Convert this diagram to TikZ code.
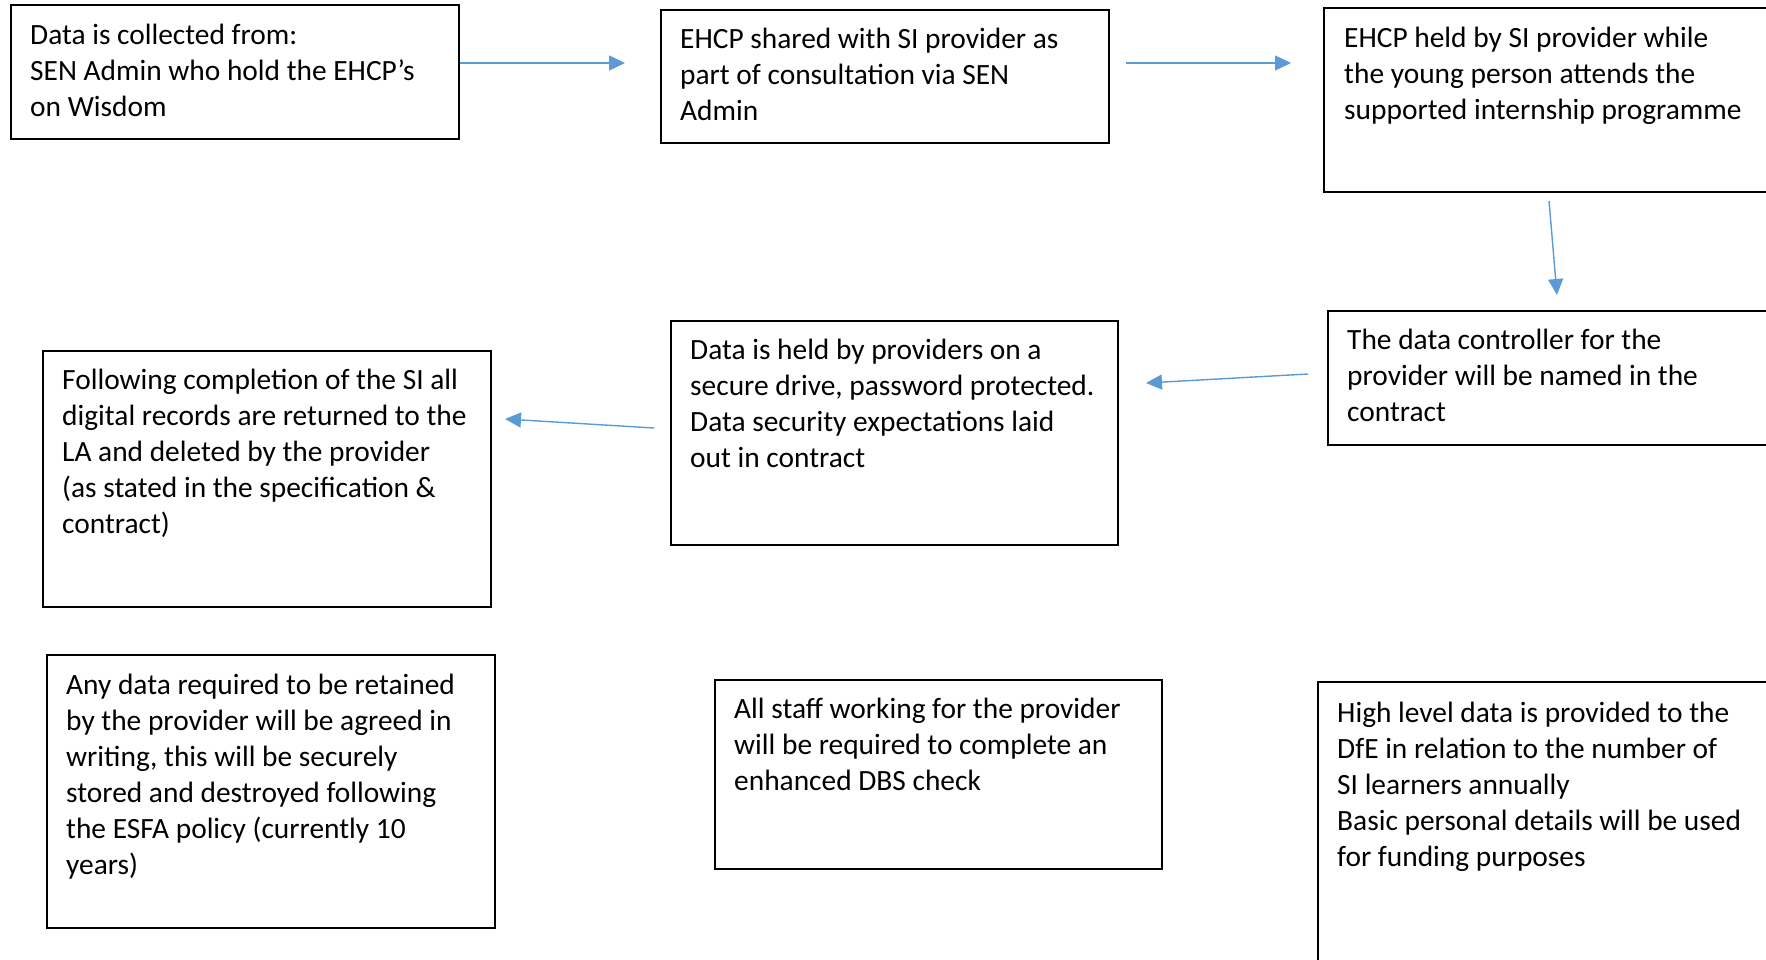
\documentclass[tikz,border=0pt]{standalone}
\usepackage{fontspec}
\setmainfont{Carlito}
\usepackage{xcolor}
\usetikzlibrary{arrows.meta,positioning}

\definecolor{flowblue}{HTML}{5B9BD5}

\begin{document}
\begin{tikzpicture}[
    x=1pt,y=1pt,
    box/.style={rectangle,draw,line width=2pt,anchor=north west,inner sep=0pt},
    txt/.style={anchor=north west,inner sep=0pt,align=left,font={\fontsize{29.4}{36}\selectfont}},
    flow/.style={-{Triangle[length=16pt,width=15pt]},draw=flowblue,fill=flowblue,line width=1.4pt}
]
    \useasboundingbox (0,0) rectangle (1766,-960);

    \node[box,minimum width=448,minimum height=134] (collect) at (10,-4.5) {};
    \node[box,minimum width=448,minimum height=133] (shared) at (660,-9) {};
    \node[box,minimum width=480,minimum height=184] (heldsi) at (1323,-7) {};
    \node[box,minimum width=480,minimum height=134] (controller) at (1327,-310) {};
    \node[box,minimum width=447,minimum height=224] (secure) at (670,-320) {};
    \node[box,minimum width=448,minimum height=256] (returned) at (42,-350) {};
    \node[box,minimum width=448,minimum height=273] (retained) at (46,-654) {};
    \node[box,minimum width=447,minimum height=189] (dbs) at (714,-679) {};
    \node[box,minimum width=480,minimum height=320] (dfe) at (1317,-681) {};

    \node[txt] (collect-t) at ([xshift=20pt,yshift=-19pt]collect.north west)
        {Data is collected from:\\SEN Admin who hold the EHCP’s\\on Wisdom};
    \node[txt] (shared-t) at ([xshift=20pt,yshift=-19pt]shared.north west)
        {EHCP shared with SI provider as\\part of consultation via SEN\\Admin};
    \node[txt] (heldsi-t) at ([xshift=21pt,yshift=-20pt]heldsi.north west)
        {EHCP held by SI provider while\\the young person attends the\\supported internship programme};
    \node[txt] (controller-t) at ([xshift=20pt,yshift=-19pt]controller.north west)
        {The data controller for the\\provider will be named in the\\contract};
    \node[txt] (secure-t) at ([xshift=20pt,yshift=-19pt]secure.north west)
        {Data is held by providers on a\\secure drive, password protected.\\Data security expectations laid\\out in contract};
    \node[txt] (returned-t) at ([xshift=20pt,yshift=-19pt]returned.north west)
        {Following completion of the SI all\\digital records are returned to the\\LA and deleted by the provider\\(as stated in the specification \&\\contract)};
    \node[txt] (retained-t) at ([xshift=20pt,yshift=-19.5pt]retained.north west)
        {Any data required to be retained\\by the provider will be agreed in\\writing, this will be securely\\stored and destroyed following\\the ESFA policy (currently 10\\years)};
    \node[txt] (dbs-t) at ([xshift=20pt,yshift=-19pt]dbs.north west)
        {All staff working for the provider\\will be required to complete an\\enhanced DBS check};
    \node[txt] (dfe-t) at ([xshift=20pt,yshift=-20.5pt]dfe.north west)
        {High level data is provided to the\\DfE in relation to the number of\\SI learners annually\\Basic personal details will be used\\for funding purposes};

    \draw[flow] ([yshift=9.5pt]collect.east) -- ([xshift=-35pt,yshift=13.5pt]shared.west);
    \draw[flow] ([xshift=16pt,yshift=13.5pt]shared.east) -- ([xshift=-32pt,yshift=37pt]heldsi.west);
    \draw[flow] ([xshift=226pt,yshift=-8pt]heldsi.south west) -- ([xshift=230pt,yshift=15pt]controller.north west);
    \draw[flow] ([xshift=-19pt,yshift=4pt]controller.west) -- ([xshift=27pt,yshift=50pt]secure.east);
    \draw[flow] ([xshift=-16pt,yshift=5pt]secure.west) -- ([xshift=13pt,yshift=60pt]returned.east);
\end{tikzpicture}
\end{document}
